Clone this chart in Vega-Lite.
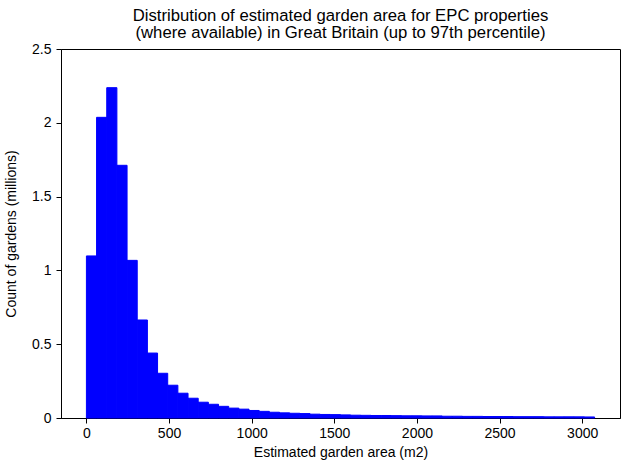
{
  "$schema": "https://vega.github.io/schema/vega-lite/v6.json",
  "width": 559,
  "height": 369,
  "autosize": {"type": "none"},
  "padding": {"left": 61, "top": 49, "right": 10, "bottom": 52},
  "background": "white",
  "title": {
    "text": ["Distribution of estimated garden area for EPC properties", "(where available) in Great Britain (up to 97th percentile)"],
    "font": "Liberation Sans",
    "fontSize": 16.7,
    "fontWeight": "normal",
    "color": "black",
    "lineHeight": 17.5,
    "anchor": "middle",
    "offset": 0
  },
  "data": {
    "values": [
      {"bin_start": 0, "bin_end": 61.5, "count": 1.098},
      {"bin_start": 61.5, "bin_end": 123, "count": 2.037},
      {"bin_start": 123, "bin_end": 184.5, "count": 2.238},
      {"bin_start": 184.5, "bin_end": 246, "count": 1.712},
      {"bin_start": 246, "bin_end": 307.5, "count": 1.068},
      {"bin_start": 307.5, "bin_end": 369, "count": 0.664},
      {"bin_start": 369, "bin_end": 430.5, "count": 0.44},
      {"bin_start": 430.5, "bin_end": 492, "count": 0.303},
      {"bin_start": 492, "bin_end": 553.5, "count": 0.222},
      {"bin_start": 553.5, "bin_end": 615, "count": 0.168},
      {"bin_start": 615, "bin_end": 676.5, "count": 0.134},
      {"bin_start": 676.5, "bin_end": 738, "count": 0.107},
      {"bin_start": 738, "bin_end": 799.5, "count": 0.093},
      {"bin_start": 799.5, "bin_end": 861, "count": 0.079},
      {"bin_start": 861, "bin_end": 922.5, "count": 0.067},
      {"bin_start": 922.5, "bin_end": 984, "count": 0.06},
      {"bin_start": 984, "bin_end": 1045.5, "count": 0.051},
      {"bin_start": 1045.5, "bin_end": 1107, "count": 0.045},
      {"bin_start": 1107, "bin_end": 1168.5, "count": 0.039},
      {"bin_start": 1168.5, "bin_end": 1230, "count": 0.035},
      {"bin_start": 1230, "bin_end": 1291.5, "count": 0.032},
      {"bin_start": 1291.5, "bin_end": 1353, "count": 0.03},
      {"bin_start": 1353, "bin_end": 1414.5, "count": 0.026},
      {"bin_start": 1414.5, "bin_end": 1476, "count": 0.024},
      {"bin_start": 1476, "bin_end": 1537.5, "count": 0.023},
      {"bin_start": 1537.5, "bin_end": 1599, "count": 0.021},
      {"bin_start": 1599, "bin_end": 1660.5, "count": 0.019},
      {"bin_start": 1660.5, "bin_end": 1722, "count": 0.018},
      {"bin_start": 1722, "bin_end": 1783.5, "count": 0.017},
      {"bin_start": 1783.5, "bin_end": 1845, "count": 0.017},
      {"bin_start": 1845, "bin_end": 1906.5, "count": 0.016},
      {"bin_start": 1906.5, "bin_end": 1968, "count": 0.015},
      {"bin_start": 1968, "bin_end": 2029.5, "count": 0.015},
      {"bin_start": 2029.5, "bin_end": 2091, "count": 0.014},
      {"bin_start": 2091, "bin_end": 2152.5, "count": 0.014},
      {"bin_start": 2152.5, "bin_end": 2214, "count": 0.012},
      {"bin_start": 2214, "bin_end": 2275.5, "count": 0.012},
      {"bin_start": 2275.5, "bin_end": 2337, "count": 0.011},
      {"bin_start": 2337, "bin_end": 2398.5, "count": 0.011},
      {"bin_start": 2398.5, "bin_end": 2460, "count": 0.01},
      {"bin_start": 2460, "bin_end": 2521.5, "count": 0.01},
      {"bin_start": 2521.5, "bin_end": 2583, "count": 0.01},
      {"bin_start": 2583, "bin_end": 2644.5, "count": 0.009},
      {"bin_start": 2644.5, "bin_end": 2706, "count": 0.009},
      {"bin_start": 2706, "bin_end": 2767.5, "count": 0.009},
      {"bin_start": 2767.5, "bin_end": 2829, "count": 0.008},
      {"bin_start": 2829, "bin_end": 2890.5, "count": 0.008},
      {"bin_start": 2890.5, "bin_end": 2952, "count": 0.008},
      {"bin_start": 2952, "bin_end": 3013.5, "count": 0.008},
      {"bin_start": 3013.5, "bin_end": 3075, "count": 0.007}
    ]
  },
  "mark": {"type": "rect", "color": "#0000ff", "stroke": "#0000ff", "strokeWidth": 1},
  "encoding": {
    "x": {
      "field": "bin_start",
      "type": "quantitative",
      "title": "Estimated garden area (m2)",
      "scale": {"domain": [-153.75, 3228.75], "nice": false, "zero": false},
      "axis": {"values": [0, 500, 1000, 1500, 2000, 2500, 3000], "format": "d", "labelPadding": 3, "titlePadding": 5}
    },
    "x2": {"field": "bin_end"},
    "y": {
      "field": "count",
      "type": "quantitative",
      "title": "Count of gardens (millions)",
      "scale": {"domain": [0, 2.5], "nice": false},
      "axis": {"values": [0, 0.5, 1, 1.5, 2, 2.5], "format": "~g", "labelPadding": 5, "titlePadding": 13}
    },
    "y2": {"datum": 0}
  },
  "config": {
    "view": {"stroke": "black", "strokeWidth": 1},
    "axis": {
      "grid": false,
      "domainColor": "black",
      "domainWidth": 1,
      "tickColor": "black",
      "tickSize": 5,
      "tickWidth": 1,
      "labelFont": "Liberation Sans",
      "labelFontSize": 14,
      "labelColor": "black",
      "titleFont": "Liberation Sans",
      "titleFontSize": 14,
      "titleFontWeight": "normal",
      "titleColor": "black"
    }
  }
}
